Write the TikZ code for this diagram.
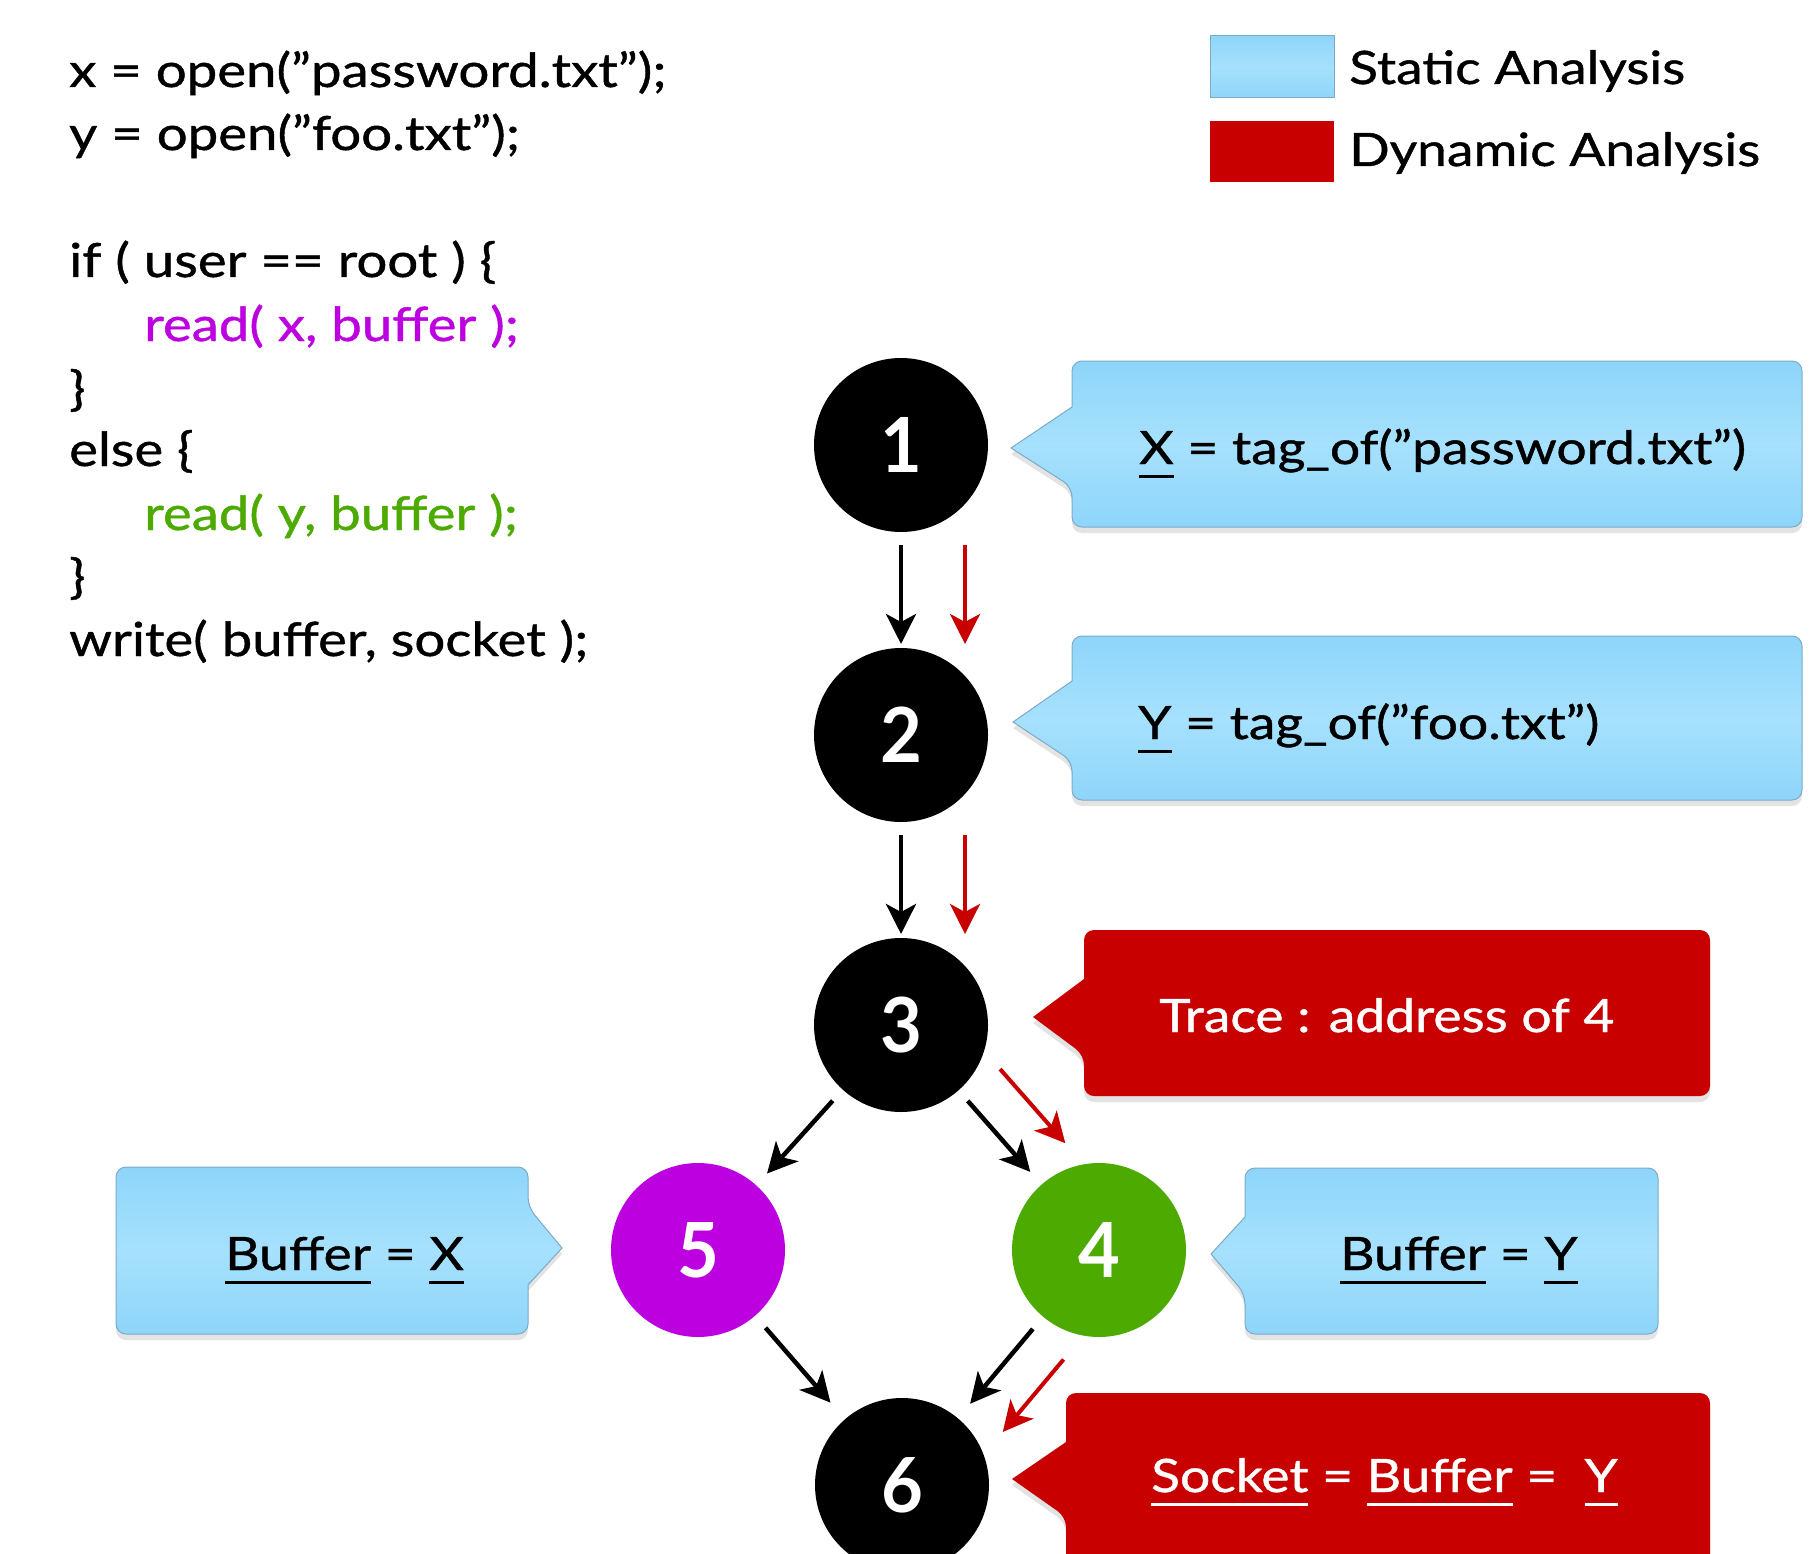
\documentclass[tikz,border=0pt]{standalone}
\usepackage{fontspec}
\setmainfont[FakeStretch=1.16, FakeBold=0.9]{Lato}
\newfontfamily\numfont[FakeStretch=0.95]{Lato}
\usetikzlibrary{arrows.meta,shadows,calc}
\definecolor{cpurple}{RGB}{188,0,224}
\definecolor{cgreen}{RGB}{76,170,0}
\definecolor{cred}{RGB}{200,0,0}
\definecolor{bluetop}{RGB}{142,213,250}
\definecolor{bluemid}{RGB}{166,225,253}
\definecolor{blueedge}{RGB}{125,170,200}
\newcommand{\myul}[1]{\setbox0\hbox{#1}\rlap{\rule[-14pt]{\wd0}{3pt}}\box0\relax}
\begin{document}
\begin{tikzpicture}[x=1pt,y=-1pt,
  codetext/.style={anchor=base west, inner sep=0pt, font=\fontsize{47}{56}\selectfont},
  calltext/.style={anchor=base west, inner sep=0pt, font=\fontsize{46}{54}\selectfont},
  legtext/.style={anchor=base west, inner sep=0pt, font=\fontsize{46}{54}\selectfont},
  num/.style={circle, minimum size=174pt, inner sep=0pt, outer sep=0pt, fill=black, text=white, font=\numfont\fontsize{76}{80}\selectfont\bfseries},
  bluecall/.style={top color=bluetop, bottom color=bluetop, middle color=bluemid, draw=blueedge, line width=1pt, drop shadow={shadow xshift=0pt, shadow yshift=-6pt, opacity=0.22}},
  redcall/.style={fill=cred, drop shadow={shadow xshift=0pt, shadow yshift=-6pt, opacity=0.22}},
  arr/.style={line width=4.5pt, -{Stealth[length=30pt,width=30pt,inset=8pt]}},
  redarr/.style={arr, line width=4pt, draw=cred},
]
\useasboundingbox (0,0) rectangle (1812,1554);
\clip (0,0) rectangle (1812,1554);
\fill[white] (0,0) rectangle (1812,1554);

% code
\node[codetext] (c1) at (69,87) {x = open(\char"201D password.txt\char"201D);};
\node[codetext] (c2) at (69,150) {y = open(\char"201D foo.txt\char"201D);};
\node[codetext] (c3) at (69,277) {if ( user == root ) \{};
\node[codetext, text=cpurple] (c4) at (144,341) {read( x, buffer );};
\node[codetext] (c5) at (69,405) {\}};
\node[codetext] (c6) at (69,466) {else \{};
\node[codetext, text=cgreen] (c7) at (144,530) {read( y, buffer );};
\node[codetext] (c8) at (69,593) {\}};
\node[codetext] (c9) at (69,656) {write( buffer, socket );};

% legend
\node[top color=bluetop, bottom color=bluetop, middle color=bluemid, draw=blueedge, line width=1pt, minimum width=124pt, minimum height=62pt, inner sep=0pt] (lb) at (1272,67) {};
\node[fill=cred, minimum width=124pt, minimum height=61pt, inner sep=0pt] (lr) at (1272,151.5) {};
\node[legtext] (lbt) at (1349,84) {Static Analysis};
\node[legtext] (lrt) at (1349,166) {Dynamic Analysis};

% callouts
\path[bluecall, rounded corners=10pt] (1072,407) -- (1072,361) -- (1802,361) -- (1802,527) -- (1072,527) -- (1072,487) [sharp corners] -- (1011,448) -- cycle;
\node[calltext] (t1) at (1139,464) {\myul{X} = tag\_of(\char"201D password.txt\char"201D)};

\path[bluecall, rounded corners=10pt] (1072,681) -- (1072,636) -- (1802,636) -- (1802,800) -- (1072,800) -- (1072,761) [sharp corners] -- (1013,722) -- cycle;
\node[calltext] (t2) at (1138,739) {\myul{Y} = tag\_of(\char"201D foo.txt\char"201D)};

\path[redcall, rounded corners=10pt] (1084,979) -- (1084,930) -- (1710,930) -- (1710,1096) -- (1084,1096) -- (1084,1055) [sharp corners] -- (1033,1017) -- cycle;
\node[calltext, text=white] (t3) at (1159,1032) {Trace : address of 4};

\path[bluecall, rounded corners=10pt] (1245,1217) -- (1245,1168) -- (1658,1168) -- (1658,1334) -- (1245,1334) -- (1245,1294) [sharp corners] -- (1211,1254) -- cycle;
\node[calltext] (t4) at (1340,1270) {\myul{Buffer} = \myul{Y}};

\path[bluecall, rounded corners=10pt] (528,1285) -- (528,1334) -- (116,1334) -- (116,1167) -- (528,1167) -- (528,1207) [sharp corners] -- (562,1248) -- cycle;
\node[calltext] (t5) at (225,1270) {\myul{Buffer} = \myul{X}};

\path[redcall, rounded corners=10pt] (1066,1442) -- (1066,1393) -- (1710,1393) -- (1710,1620) -- (1066,1620) -- (1066,1517) [sharp corners] -- (1012,1479) -- cycle;
\node[calltext, text=white] (t6) at (1151,1492) {\myul{Socket} = \myul{Buffer} = \ \myul{Y}};

% graph nodes
\node[num] (n1) at (901,445) {1};
\node[num] (n2) at (901,735) {2};
\node[num] (n3) at (901,1025) {3};
\node[num, fill=cpurple] (n5) at (698,1250) {5};
\node[num, fill=cgreen] (n4) at (1099,1250) {4};
\node[num] (n6) at (902,1485) {6};

% arrows
\draw[arr, shorten <=13pt, shorten >=4pt] (n1) -- (n2);
\draw[arr, shorten <=13pt, shorten >=4pt] (n2) -- (n3);
\draw[redarr, shorten <=13pt, shorten >=4pt] ([xshift=64pt]n1.south) -- ([xshift=64pt]n2.north);
\draw[redarr, shorten <=13pt, shorten >=4pt] ([xshift=64pt]n2.south) -- ([xshift=64pt]n3.north);
\draw[arr, shorten <=15pt, shorten >=16pt] (n3) -- (n5);
\draw[arr, shorten <=14pt, shorten >=17pt] (n3) -- (n4);
\draw[arr, shorten <=16pt, shorten >=22pt] (n5) -- (n6);
\draw[arr, shorten <=16pt, shorten >=19pt] (n4) -- (n6);
\draw[redarr, shorten <=100pt, shorten >=101pt] ([shift={(33,-31)}]n3.center) -- ([shift={(33,-31)}]n4.center);
\draw[redarr, shorten <=105pt, shorten >=107pt] ([shift={(32,29)}]n4.center) -- ([shift={(32,29)}]n6.center);
\end{tikzpicture}
\end{document}
